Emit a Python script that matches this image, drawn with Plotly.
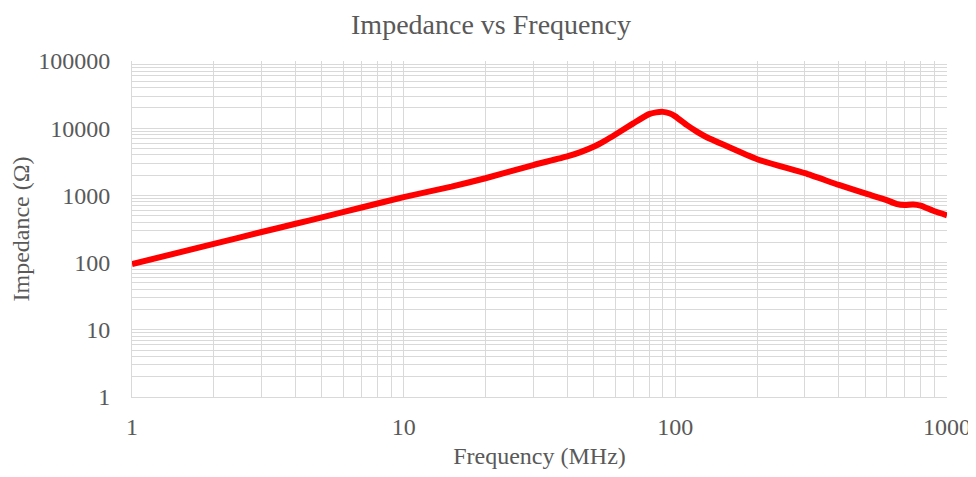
import plotly.graph_objects as go

freq_mhz = [1, 2, 3, 4, 5, 7, 10, 15, 20, 30, 40, 45, 50, 55, 60, 70, 80, 85, 90, 95, 100,
            110, 120, 130, 150, 200, 300, 400, 500, 600, 650, 700, 750, 800, 900, 1000]
impedance_ohm = [95, 190, 285, 378, 472, 660, 945, 1350, 1800, 2830, 3800, 4450, 5300, 6500,
                 8000, 11800, 16200, 17200, 17500, 16700, 15000, 11200, 8900, 7400, 5700,
                 3450, 2140, 1430, 1070, 850, 750, 720, 735, 705, 580, 505]

x_major = [1, 10, 100, 1000]
y_major = [1, 10, 100, 1000, 10000, 100000]
x_minor = [m * 10 ** d for d in range(3) for m in range(2, 10)]
y_minor = [m * 10 ** d for d in range(5) for m in range(2, 10)]

grey = "#595959"
grid = "#d9d9d9"
font = "Liberation Serif"

fig = go.Figure()
fig.add_trace(go.Scatter(x=freq_mhz, y=impedance_ohm, mode="lines",
                         line=dict(color="#ff0000", width=6, shape="spline", smoothing=0.5),
                         showlegend=False))

fig.update_layout(
    width=966, height=461,
    margin=dict(l=124, r=27, t=53, b=72),
    paper_bgcolor="white", plot_bgcolor="white",
    title=dict(text="Impedance vs Frequency", x=0.5, xanchor="center", y=0.964, yanchor="middle",
               font=dict(family=font, size=28, color=grey)),
    font=dict(family=font, color=grey),
)
fig.update_xaxes(type="log", range=[0, 3], tickvals=x_major, ticktext=[str(v) for v in x_major],
                 showgrid=True, gridcolor=grid, gridwidth=1, zeroline=False,
                 showline=True, linecolor=grid, automargin=False, ticklabeloverflow="allow",
                 tickfont=dict(family=font, size=24, color=grey), ticks="", ticklabelstandoff=8,
                 minor=dict(tickvals=x_minor, showgrid=True, gridcolor=grid, gridwidth=1),
                 title=dict(text="Frequency (MHz)", font=dict(family=font, size=24, color=grey), standoff=16))
fig.update_yaxes(type="log", range=[0, 5], tickvals=y_major, ticktext=[str(v) for v in y_major],
                 showgrid=True, gridcolor=grid, gridwidth=1, zeroline=False,
                 showline=True, linecolor=grid, automargin=False,
                 tickfont=dict(family=font, size=24, color=grey), ticks="", ticklabelstandoff=16,
                 minor=dict(tickvals=y_minor, showgrid=True, gridcolor=grid, gridwidth=1),
                 title=dict(text="Impedance (Ω)", font=dict(family=font, size=24, color=grey), standoff=10))

fig.write_html("out.html")
